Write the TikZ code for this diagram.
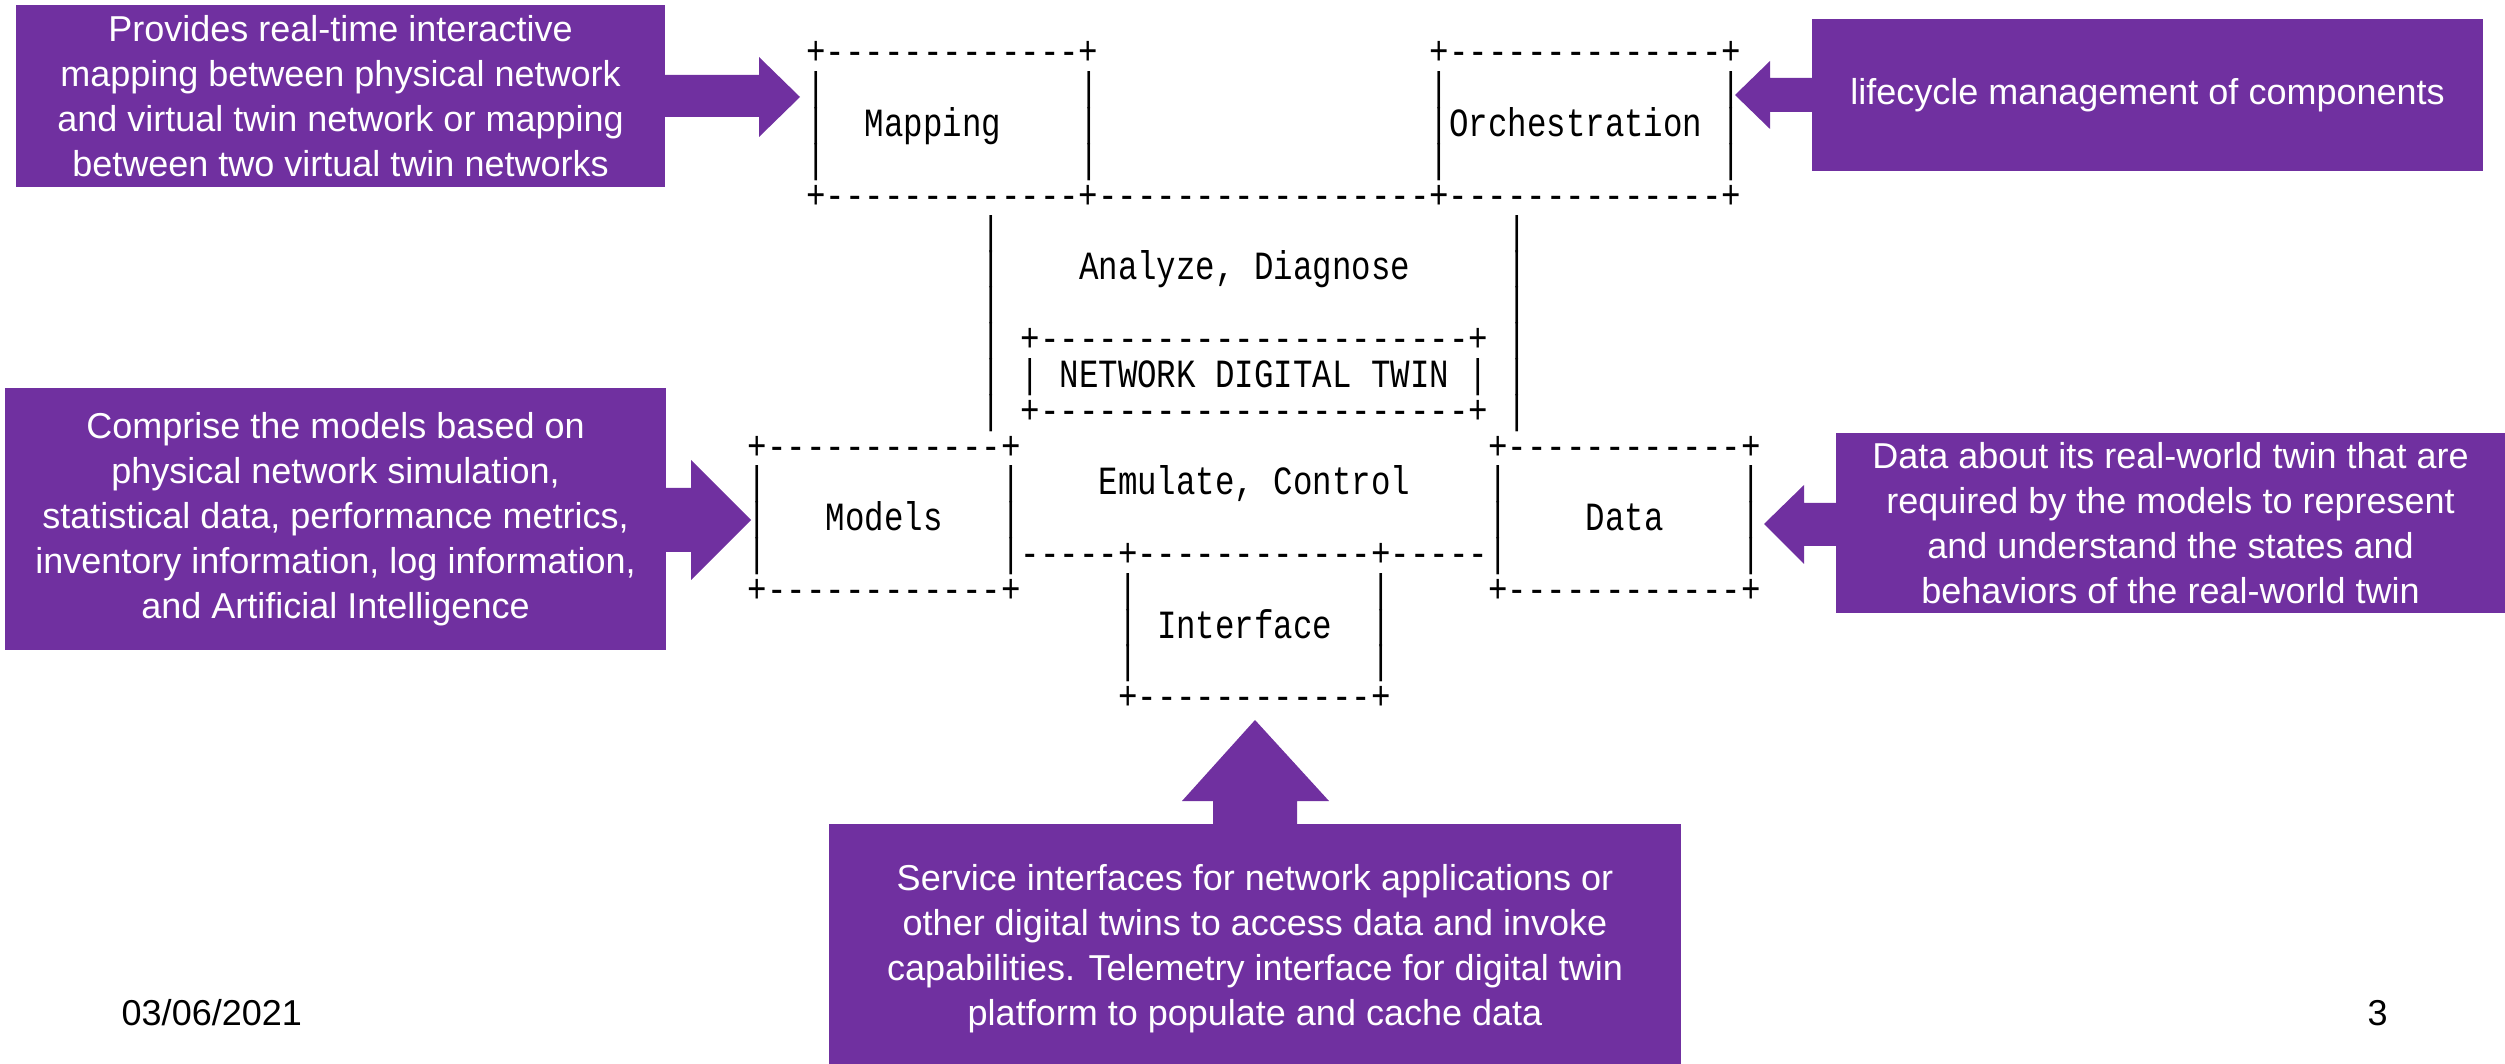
\documentclass[tikz,border=0pt]{standalone}
\usepackage{fontspec}
\setmainfont{Liberation Sans}
\setmonofont{Liberation Mono}[FakeStretch=0.811]
\definecolor{notepurple}{RGB}{112,48,160}

\begin{document}
\begin{tikzpicture}[x=0.01cm, y=-0.01cm,
  note/.style={fill=notepurple, text=white, align=center, inner sep=0pt,
    font=\fontsize{10.24}{12.8}\selectfont},
  ascii/.style={anchor=base west, inner sep=0pt, outer sep=0pt,
    font=\ttfamily\fontsize{11.38}{13}\selectfont}]
\useasboundingbox (0,0) rectangle (2505,1064);

\node[note, minimum width=6.49cm, minimum height=1.82cm] (mapnote) at (340.5,96)
  {Provides real-time interactive\\mapping between physical network\\and virtual twin network or mapping\\between two virtual twin networks};
\node[note, minimum width=6.71cm, minimum height=1.52cm] (orchnote) at (2147.5,95)
  {lifecycle management of components};
\node[note, minimum width=6.61cm, minimum height=2.62cm] (modnote) at (335.5,519)
  {Comprise the models based on\\physical network simulation,\\statistical data, performance metrics,\\inventory information, log information,\\and Artificial Intelligence};
\node[note, minimum width=6.69cm, minimum height=1.80cm] (datanote) at (2170.5,523)
  {Data about its real-world twin that are\\required by the models to represent\\and understand the states and\\behaviors of the real-world twin};
\node[note, minimum width=8.52cm, minimum height=2.50cm] (ifnote) at (1255,949)
  {Service interfaces for network applications or\\other digital twins to access data and invoke\\capabilities. Telemetry interface for digital twin\\platform to populate and cache data};

\fill[notepurple] (660,75) -- (759,75) -- (759,57) -- (800,97) -- (759,137) -- (759,117) -- (660,117) -- cycle;
\fill[notepurple] (1816,78) -- (1770,78) -- (1770,61) -- (1735,95) -- (1770,129) -- (1770,112) -- (1816,112) -- cycle;
\fill[notepurple] (662,488) -- (691,488) -- (691,460) -- (751,520) -- (691,580) -- (691,552) -- (662,552) -- cycle;
\fill[notepurple] (1840,503) -- (1804,503) -- (1804,485) -- (1764,524) -- (1804,564) -- (1804,546) -- (1840,546) -- cycle;
\fill[notepurple] (1213,828) -- (1213,801) -- (1182,801) -- (1255,720) -- (1329,801) -- (1297,801) -- (1297,828) -- cycle;

\begin{scope}[shift={(747.9,65)}, x=0.1947cm, y=-0.358cm]
\node[ascii] (maptop) at (3,0) {+-------------+};
\node[ascii] (orchtop) at (35,0) {+--------------+};
\foreach \r in {1,2,3}
  \foreach \c in {3,17,35,50}
    \node[ascii] (bar\r-\c) at (\c,\r) {|};
\node[ascii] (mapping) at (6,2) {Mapping};
\node[ascii] (orch) at (36,2) {Orchestration};
\node[ascii] (topline) at (3,4) {+-------------+-----------------+--------------+};

\foreach \r in {5,...,10}
  \foreach \c in {12,39}
    \node[ascii] (bar\r-\c) at (\c,\r) {|};
\node[ascii] (analyze) at (17,6) {Analyze, Diagnose};
\node[ascii] (ndttop) at (14,8) {+----------------------+};
\node[ascii] (ndtleft) at (14,9) {|};
\node[ascii] (ndt) at (16,9) {NETWORK DIGITAL TWIN};
\node[ascii] (ndtright) at (37,9) {|};
\node[ascii] (ndtbot) at (14,10) {+----------------------+};

\node[ascii] (modtop) at (0,11) {+------------+};
\node[ascii] (datatop) at (38,11) {+------------+};
\foreach \r in {12,13,14}
  \foreach \c in {0,13,38,51}
    \node[ascii] (bar\r-\c) at (\c,\r) {|};
\node[ascii] (emulate) at (18,12) {Emulate, Control};
\node[ascii] (models) at (4,13) {Models};
\node[ascii] (data) at (43,13) {Data};
\node[ascii] (midline) at (14,14) {-----+------------+-----};
\node[ascii] (modbot) at (0,15) {+------------+};
\node[ascii] (databot) at (38,15) {+------------+};

\foreach \r in {15,16,17}
  \foreach \c in {19,32}
    \node[ascii] (bar\r-\c) at (\c,\r) {|};
\node[ascii] (interface) at (21,16) {Interface};
\node[ascii] (ifbot) at (19,18) {+------------+};
\end{scope}

\node[anchor=base west, inner sep=0pt, font=\fontsize{10.24}{12}\selectfont] (date) at (121,1025) {03/06/2021};
\node[anchor=base west, inner sep=0pt, font=\fontsize{10.24}{12}\selectfont] (pagenum) at (2367,1025) {3};
\end{tikzpicture}
\end{document}
